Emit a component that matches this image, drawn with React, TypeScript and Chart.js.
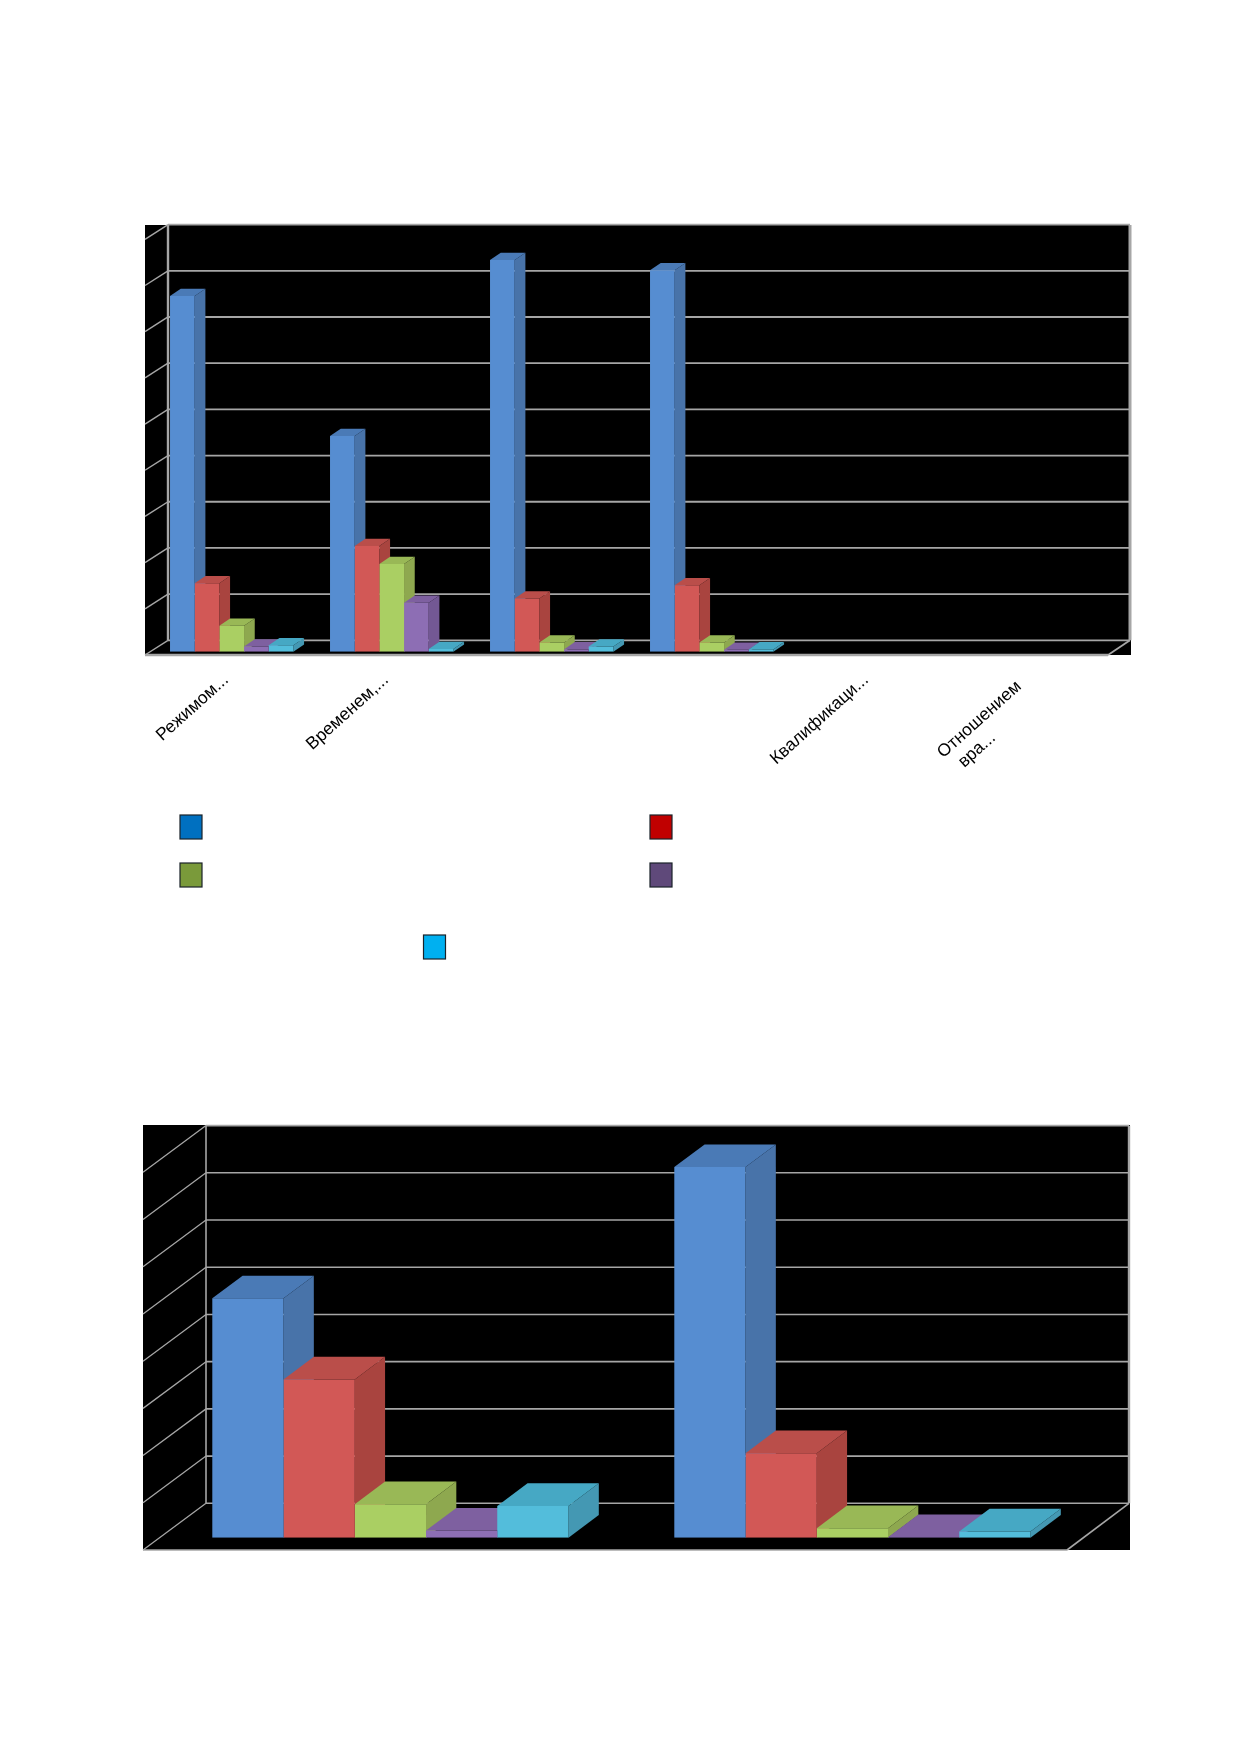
import React, { useEffect, useRef } from "react";
import { Chart, registerables } from "chart.js";

Chart.register(...registerables);

const seriesNames = ["Ряд 1", "Ряд 2", "Ряд 3", "Ряд 4", "Ряд 5"];
const frontColors = ["#568DD1", "#D25856", "#AACF63", "#8D6EB4", "#53BDDB"];
const sideColors = ["#4873A9", "#A9443F", "#8EA84F", "#735894", "#4498B3"];
const topColors = ["#4A7AB6", "#BA4E4A", "#99B856", "#7E60A0", "#46A8C4"];
const legendColors = ["#0070C0", "#C00000", "#7A9A3A", "#5F497A", "#00B0F0"];

const topCategories: (string | string[])[] = [
  "Режимом...",
  "Временем,...",
  "",
  "",
  "Квалификаци...",
  ["Отношением\u00a0\u00a0", "вра...\u00a0\u00a0\u00a0\u00a0\u00a0\u00a0\u00a0\u00a0\u00a0\u00a0\u00a0\u00a0\u00a0"],
];
const topBlue = [77.0, 46.7, 84.8, 82.6, null, null];
const topRed = [14.8, 22.9, 11.5, 14.4, null, null];
const topGreen = [5.6, 19.0, 2.0, 2.0, null, null];
const topPurple = [1.1, 10.6, 0.5, 0.4, null, null];
const topCyan = [1.4, 0.6, 1.1, 0.5, null, null];
const topSeries = [topBlue, topRed, topGreen, topPurple, topCyan];

const bottomCategories = ["", ""];
const bottomBlue = [50.7, 78.5];
const bottomRed = [33.5, 17.9];
const bottomGreen = [7.1, 2.0];
const bottomPurple = [1.5, 0.1];
const bottomCyan = [6.7, 1.3];
const bottomSeries = [bottomBlue, bottomRed, bottomGreen, bottomPurple, bottomCyan];

type Frame = {
  blackLeft: number; blackRight: number; blackTop: number; blackBottom: number;
  wallLeft: number; wallRight: number; wallTop: number;
  floorRight: number; wallDy: number;
  depthX: number; depthY: number;
  gridWidth: number; wallWidth: number; rightWidth: number; bottomWidth: number;
  legend: boolean;
};

function poly(ctx: CanvasRenderingContext2D, pts: number[][], fill: string) {
  ctx.beginPath();
  pts.forEach((p, i) => (i ? ctx.lineTo(p[0], p[1]) : ctx.moveTo(p[0], p[1])));
  ctx.closePath();
  ctx.fillStyle = fill;
  ctx.fill();
}

function seg(ctx: CanvasRenderingContext2D, x1: number, y1: number, x2: number, y2: number, w: number) {
  ctx.beginPath();
  ctx.moveTo(x1, y1);
  ctx.lineTo(x2, y2);
  ctx.lineWidth = w;
  ctx.strokeStyle = "#A6A6A6";
  ctx.stroke();
}

const box3d = {
  id: "box3d",
  beforeDatasetsDraw(chart: any, _args: any, opts: any) {
    const f: Frame = opts.frame;
    const ctx: CanvasRenderingContext2D = chart.ctx;
    const y = chart.scales.y;
    ctx.save();
    ctx.fillStyle = "#000000";
    ctx.fillRect(f.blackLeft, f.blackTop, f.blackRight - f.blackLeft, f.blackBottom - f.blackTop);

    const wallBottom = y.getPixelForValue(0) - f.wallDy;
    const sideDx = f.blackLeft - f.wallLeft;
    const sideDy = f.blackBottom - wallBottom;
    y.ticks.forEach((t: any) => {
      const py = y.getPixelForValue(t.value) - f.wallDy;
      seg(ctx, f.wallLeft, py, f.wallRight, py, f.gridWidth);
      seg(ctx, f.wallLeft, py, f.wallLeft + sideDx, py + sideDy, f.gridWidth * 0.8);
    });
    seg(ctx, f.wallLeft, f.wallTop, f.wallLeft, wallBottom, f.wallWidth);
    seg(ctx, f.wallRight, f.wallTop, f.wallRight, wallBottom, f.rightWidth);
    seg(ctx, f.blackLeft, f.blackBottom, f.floorRight, f.blackBottom, f.bottomWidth);
    seg(ctx, f.floorRight, f.blackBottom, f.wallRight, wallBottom, f.gridWidth);

    chart.data.datasets.forEach((_d: any, i: number) => {
      chart.getDatasetMeta(i).data.forEach((bar: any, k: number) => {
        if (chart.data.datasets[i].data[k] == null) return;
        const { x, y: top, base, width } = bar.getProps(["x", "y", "base", "width"], true);
        const l = x - width / 2;
        const r = x + width / 2;
        poly(ctx, [[r, top], [r + f.depthX, top - f.depthY], [r + f.depthX, base - f.depthY], [r, base]], sideColors[i]);
        poly(ctx, [[l, top], [r, top], [r + f.depthX, top - f.depthY], [l + f.depthX, top - f.depthY]], topColors[i]);
      });
    });
    ctx.restore();
  },
  afterDraw(chart: any, _args: any, opts: any) {
    if (!opts.frame.legend) return;
    const ctx: CanvasRenderingContext2D = chart.ctx;
    const spots = [[180, 815], [650, 815], [180, 863], [650, 863], [423.5, 935]];
    ctx.save();
    spots.forEach((s, i) => {
      ctx.fillStyle = legendColors[i];
      ctx.fillRect(s[0], s[1], 22, 24);
      ctx.strokeStyle = "#1A2228";
      ctx.lineWidth = 1.2;
      ctx.strokeRect(s[0], s[1], 22, 24);
    });
    ctx.restore();
  },
};

function draw(
  canvas: HTMLCanvasElement,
  labels: (string | string[])[],
  series: (number | null)[][],
  max: number,
  area: { left: number; right: number; top: number; bottom: number },
  frame: Frame,
  showLabels: boolean
) {
  return new Chart(canvas, {
    type: "bar",
    data: {
      labels,
      datasets: series.map((data, i) => ({
        label: seriesNames[i],
        data,
        backgroundColor: frontColors[i],
        borderWidth: 0,
        categoryPercentage: 0.771,
        barPercentage: 1,
      })),
    },
    plugins: [box3d],
    options: {
      animation: false,
      responsive: false,
      devicePixelRatio: 1,
      layout: {
        padding: {
          left: area.left,
          top: area.top,
          right: canvas.width - area.right,
          bottom: 0,
        },
      },
      plugins: {
        legend: { display: false },
        title: { display: false },
        tooltip: { enabled: false },
        box3d: { frame },
      } as any,
      scales: {
        x: {
          grid: { display: false },
          border: { display: false },
          afterFit: (s: any) => {
            s.height = canvas.height - area.bottom;
          },
          ticks: {
            display: showLabels,
            autoSkip: false,
            minRotation: 42,
            maxRotation: 42,
            padding: 10,
            labelOffset: -5.6,
            color: "#000000",
            font: { family: "'Liberation Sans'", size: 17.5 },
          },
        },
        y: {
          display: false,
          min: 0,
          max,
          ticks: { stepSize: 10 },
          grid: { display: false },
        },
      },
    },
  });
}

export default function App() {
  const a = useRef<HTMLCanvasElement>(null);
  const b = useRef<HTMLCanvasElement>(null);
  useEffect(() => {
    const c1 = draw(
      a.current!,
      topCategories,
      topSeries,
      90,
      { left: 151.7, right: 1111.7, top: 236, bottom: 651.7 },
      {
        blackLeft: 145, blackRight: 1131, blackTop: 225, blackBottom: 655,
        wallLeft: 168, wallRight: 1130, wallTop: 225,
        floorRight: 1108, wallDy: 11.4,
        depthX: 10.7, depthY: 7.3,
        gridWidth: 1.8, wallWidth: 2.4, rightWidth: 3, bottomWidth: 2.6,
        legend: true,
      },
      true
    );
    const c2 = draw(
      b.current!,
      bottomCategories,
      bottomSeries,
      80,
      { left: 159.4, right: 1083.4, top: 160, bottom: 537.7 },
      {
        blackLeft: 143, blackRight: 1130, blackTop: 125, blackBottom: 550,
        wallLeft: 206, wallRight: 1129, wallTop: 125.7,
        floorRight: 1067, wallDy: 34.4,
        depthX: 30.3, depthY: 22.7,
        gridWidth: 1.6, wallWidth: 1.6, rightWidth: 2.4, bottomWidth: 1.6,
        legend: false,
      },
      false
    );
    return () => {
      c1.destroy();
      c2.destroy();
    };
  }, []);
  return (
    <div style={{ position: "absolute", left: 0, top: 0, width: 1239, height: 1752, overflow: "hidden", background: "#fff" }}>
      <canvas ref={a} width={1239} height={1000} style={{ position: "absolute", left: 0, top: 0 }} />
      <canvas ref={b} width={1239} height={752} style={{ position: "absolute", left: 0, top: 1000 }} />
    </div>
  );
}
